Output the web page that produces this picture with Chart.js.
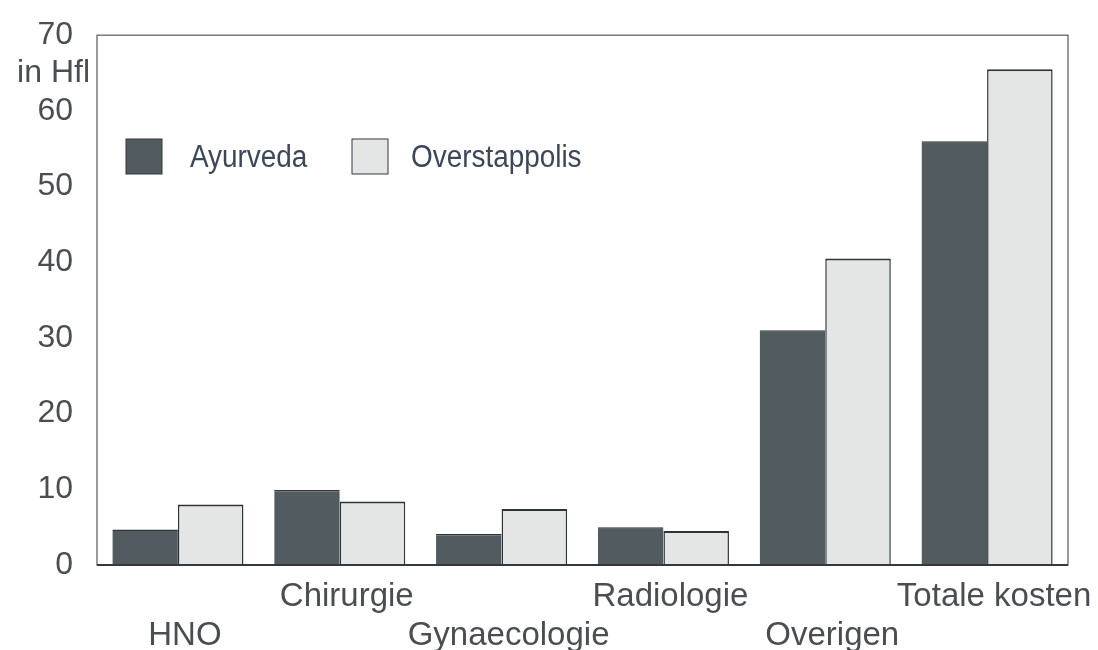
<!DOCTYPE html>
<html>
<head>
<meta charset="utf-8">
<script src="https://cdn.jsdelivr.net/npm/chart.js@4"></script>
<style>
  html, body { margin: 0; padding: 0; background: #fff; }
  #wrap { width: 1098px; height: 650px; }
</style>
</head>
<body>
<div id="wrap"><canvas id="c" width="1098" height="650"></canvas></div>
<script>
  // categories, staggered on two rows like the original print
  const categories = ['HNO', 'Chirurgie', 'Gynaecologie', 'Radiologie', 'Overigen', 'Totale kosten'];
  const labelRow = [1, 0, 1, 0, 1, 0];
  const ayurveda = [4.7, 9.9, 4.1, 5.0, 31, 56];
  const overstappolis = [8.0, 8.4, 7.4, 4.5, 40.5, 65.5];
  const yTicks = [0, 10, 20, 30, 40, 50, 60, 70];
  const unitLabel = 'in Hfl';

  const ink = '#33383c';
  const textCol = '#4a4e52';
  const font = "'Liberation Sans', Arial, sans-serif";

  const frame = {
    id: 'frame',
    afterDatasetsDraw(chart) {
      const a = chart.chartArea;
      const ctx = chart.ctx;
      ctx.save();
      ctx.strokeStyle = '#55595c';
      ctx.lineWidth = 1.2;
      ctx.strokeRect(a.left, a.top, a.right - a.left, a.bottom - a.top);
      ctx.strokeStyle = ink;
      ctx.lineWidth = 2;
      ctx.beginPath();
      ctx.moveTo(a.left, a.bottom);
      ctx.lineTo(a.right, a.bottom);
      ctx.stroke();
      ctx.restore();
    },
    afterDraw(chart) {
      const ctx = chart.ctx;
      ctx.save();
      ctx.fillStyle = textCol;
      ctx.font = '32px ' + font;
      ctx.textAlign = 'right';
      ctx.textBaseline = 'middle';
      ctx.fillText(unitLabel, 90, 73);

      // legend inside the plot, narrow lettering
      const ds = chart.data.datasets;
      const items = [[126, 190], [352, 411]];
      ds.forEach(function (d, i) {
        const x = items[i][0];
        ctx.fillStyle = d.backgroundColor;
        ctx.fillRect(x, 139, 36, 35);
        ctx.strokeStyle = ink;
        ctx.lineWidth = 1;
        ctx.strokeRect(x, 139, 36, 35);
        ctx.save();
        ctx.translate(items[i][1], 158);
        ctx.scale(0.9, 1);
        ctx.font = '31px ' + font;
        ctx.textAlign = 'left';
        ctx.textBaseline = 'middle';
        ctx.fillStyle = '#3c4858';
        ctx.fillText(d.label, 0, 0);
        ctx.restore();
      });
      ctx.restore();
    }
  };

  new Chart(document.getElementById('c'), {
    type: 'bar',
    data: {
      labels: categories.map(function (c, i) { return labelRow[i] ? ['', c] : [c, '']; }),
      datasets: [
        {
          label: 'Ayurveda',
          data: ayurveda,
          backgroundColor: '#525b60',
          borderColor: '#2f3538',
          borderWidth: { top: 1.5, left: 0, right: 0, bottom: 0 },
        },
        {
          label: 'Overstappolis',
          data: overstappolis,
          backgroundColor: '#e4e6e6',
          borderColor: '#2e3336',
          borderWidth: { top: 2, left: 1.5, right: 1.5, bottom: 0 },
        },
      ],
    },
    options: {
      responsive: false,
      animation: false,
      layout: { padding: { left: 0, top: 32, right: 30, bottom: 0 } },
      plugins: { legend: { display: false }, tooltip: { enabled: false } },
      datasets: { bar: { categoryPercentage: 0.81, barPercentage: 1.0 } },
      scales: {
        x: {
          grid: { display: false },
          border: { display: false },
          ticks: {
            color: textCol,
            font: { family: font, size: 33, lineHeight: 1.18 },
            maxRotation: 0,
            autoSkip: false,
            padding: 4,
            labelOffset: 7,
          },
          afterFit(scale) { scale.height = 85; },
        },
        y: {
          min: 0,
          max: 70,
          afterBuildTicks(scale) { scale.ticks = yTicks.map(function (v) { return { value: v }; }); },
          grid: { display: false },
          border: { display: false },
          ticks: {
            color: textCol,
            font: { family: font, size: 32 },
            padding: 16,
          },
          afterFit(scale) { scale.width = 97; },
        },
      },
    },
    plugins: [frame],
  });
</script>
</body>
</html>
